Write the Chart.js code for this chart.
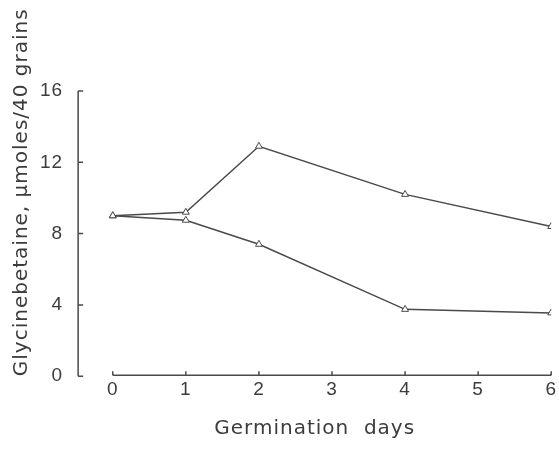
<!DOCTYPE html>
<html>
<head>
<meta charset="utf-8">
<script src="https://cdn.jsdelivr.net/npm/chart.js@4.4.1/dist/chart.umd.min.js"></script>
<style>
  html, body { margin: 0; padding: 0; background: #fff; }
  #wrap { width: 559px; height: 450px; }
</style>
</head>
<body>
<div id="wrap"><canvas id="c"></canvas></div>
<script>
// germination days and glycinebetaine content (umoles / 40 grains)
const days = [0, 1, 2, 4, 6];
const upperSeries = [9.0, 9.2, 12.9, 10.2, 8.4];
const lowerSeries = [9.0, 8.75, 7.4, 3.75, 3.55];
const xTicks = [0, 1, 2, 3, 4, 5, 6];
const yTicks = [0, 4, 8, 12, 16];

const ink = '#4a4a4a';
const textInk = '#3c3c3c';
const tickFont = { family: "'Liberation Sans', sans-serif", size: 19 };
const titleFont = { family: "'DejaVu Sans', sans-serif", size: 20 };

const toPoints = (vals) => days.map((d, i) => ({ x: d, y: vals[i] }));

// wide lettering like the typewritten original
const spacing = {
  id: 'spacing',
  beforeUpdate(chart) { chart.ctx.letterSpacing = '1px'; },
  beforeDraw(chart) { chart.ctx.letterSpacing = '1px'; }
};

// hand-drawn style axes: y ticks point inward, x axis starts at day 0
const paperAxes = {
  id: 'paperAxes',
  beforeDatasetsDraw(chart) {
    const { ctx, chartArea, scales } = chart;
    const x = scales.x, y = scales.y;
    ctx.save();
    ctx.strokeStyle = ink;
    ctx.lineWidth = 1.5;
    // y axis
    ctx.beginPath();
    ctx.moveTo(chartArea.left, y.getPixelForValue(16));
    ctx.lineTo(chartArea.left, y.getPixelForValue(0));
    yTicks.forEach(v => {
      const py = y.getPixelForValue(v);
      ctx.moveTo(chartArea.left, py);
      ctx.lineTo(chartArea.left + 5, py);
    });
    ctx.stroke();
    // x axis
    const py0 = y.getPixelForValue(0) - 1;
    ctx.beginPath();
    ctx.moveTo(x.getPixelForValue(0), py0);
    ctx.lineTo(x.getPixelForValue(6), py0);
    xTicks.forEach(v => {
      const px = x.getPixelForValue(v);
      ctx.moveTo(px, py0);
      ctx.lineTo(px, py0 - 4);
    });
    ctx.stroke();
    ctx.restore();
  }
};

const seriesStyle = {
  borderColor: ink,
  borderWidth: 1.5,
  backgroundColor: '#fff',
  pointStyle: 'triangle',
  pointRadius: 4,
  pointBorderWidth: 1,
  pointBorderColor: ink,
  pointBackgroundColor: '#fff',
  tension: 0,
  fill: false
};

new Chart(document.getElementById('c'), {
  type: 'line',
  data: {
    datasets: [
      Object.assign({ label: 'upper', data: toPoints(upperSeries) }, seriesStyle),
      Object.assign({ label: 'lower', data: toPoints(lowerSeries) }, seriesStyle)
    ]
  },
  options: {
    responsive: true,
    maintainAspectRatio: false,
    animation: false,
    layout: { padding: { top: 91, right: 4, left: 10, bottom: 9 } },
    plugins: {
      legend: { display: false },
      tooltip: { enabled: false }
    },
    scales: {
      x: {
        type: 'linear',
        min: -0.474,
        max: 6,
        afterBuildTicks: (s) => { s.ticks = xTicks.map(v => ({ value: v })); },
        grid: { display: false, drawTicks: false },
        border: { display: false },
        ticks: { color: textInk, padding: 2, maxRotation: 0, font: tickFont },
        title: {
          display: true,
          text: 'Germination  days',
          color: textInk,
          padding: { top: 14, bottom: 0 },
          font: titleFont
        }
      },
      y: {
        min: 0,
        max: 16,
        afterBuildTicks: (s) => { s.ticks = yTicks.map(v => ({ value: v })); },
        grid: { display: false, drawTicks: false },
        border: { display: false },
        ticks: { color: textInk, padding: 15, font: tickFont },
        title: {
          display: true,
          text: 'Glycinebetaine, \u03bcmoles/40 grains',
          align: 'start',
          color: textInk,
          padding: { top: 0, bottom: -9 },
          font: titleFont
        }
      }
    }
  },
  plugins: [spacing, paperAxes]
});
</script>
</body>
</html>
